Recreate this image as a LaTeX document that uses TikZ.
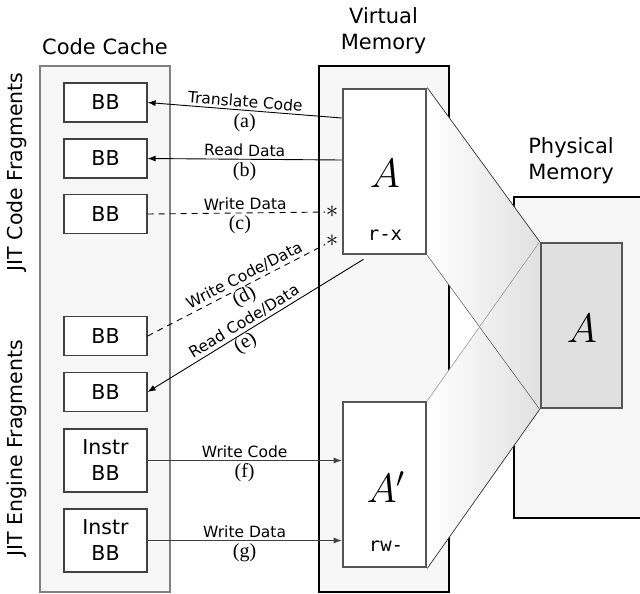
\documentclass[tikz,border=0pt]{standalone}
\usepackage{fontspec}
\newfontfamily\sansfam{DejaVu Sans}
\newfontfamily\monofam{DejaVu Sans Mono}
\newfontfamily\serifam{Liberation Serif}
\usetikzlibrary{arrows.meta,calc,backgrounds}
\definecolor{panel}{HTML}{F7F7F7}
\definecolor{cacheedge}{HTML}{808080}
\definecolor{boxedge}{HTML}{555555}
\definecolor{physfill}{HTML}{E0E0E0}
\newcommand{\pagename}[1]{\scalebox{1.98}{$#1$}}
\begin{document}
\begin{tikzpicture}[x=1pt,y=1pt,
  panelbox/.style={draw, fill=panel, line width=2.3pt, inner sep=0pt},
  bbbox/.style={draw=black!75, line width=1.2pt, fill=white, minimum width=83pt,
    minimum height=39pt, inner sep=0pt, align=center,
    font=\sansfam\fontsize{20.5}{26}\selectfont},
  membox/.style={draw=boxedge, line width=2.6pt, fill=white, minimum width=83pt,
    minimum height=165pt, inner sep=0pt},
  title/.style={font=\sansfam\fontsize{21}{26}\selectfont, inner sep=0pt, align=center},
  side/.style={font=\sansfam\fontsize{20.5}{24}\selectfont, inner sep=0pt, rotate=90},
  lbl/.style={font=\sansfam\fontsize{15.5}{18}\selectfont, inner sep=2.5pt},
  tag/.style={font=\serifam\fontsize{20}{22}\selectfont, inner sep=0.5pt},
  bigA/.style={font=\fontsize{20.74}{25}\selectfont, inner sep=0pt, anchor=base},
  perm/.style={font=\monofam\fontsize{19}{22}\selectfont, inner sep=0pt, anchor=base},
  faultmark/.style={font=\fontsize{24.88}{25}\selectfont, inner sep=0.5pt},
  arr/.style={line width=0.9pt, {Latex[length=8pt,width=6pt]}-},
  arrw/.style={line width=0.9pt, draw=black!75, -{Latex[length=8pt,width=6pt]}},
  dsh/.style={line width=0.9pt, dash pattern=on 6pt off 5pt},
]
\useasboundingbox (0,0) rectangle (640,-594);

% three memory regions
\begin{scope}[on background layer]
  \node[panelbox, draw=cacheedge, minimum width=130pt, minimum height=526pt] (cache) at (105,-329) {};
  \node[panelbox, draw=black, line width=2.5pt, minimum width=130pt, minimum height=526pt] (vmem) at (384,-329) {};
  \node[panelbox, draw=black, line width=2.5pt, minimum width=166pt, minimum height=321pt] (pmem) at (597,-357.5) {};
\end{scope}

% headings
\node[title] (cachelbl) at (105,-47) {Code Cache};
\node[title, anchor=north] (vmemlbl) at (383.5,-7) {Virtual\\Memory};
\node[title, anchor=north] (pmemlbl) at (571,-137) {Physical\\Memory};
\node[side] (jitcode) at (17,-172) {JIT Code Fragments};
\node[side] (jiteng) at (17,-448) {JIT Engine Fragments};

% code cache fragments
\node[bbbox] (bb1) at (105.5,-102.5) {BB};
\node[bbbox] (bb2) at (105.5,-158.5) {BB};
\node[bbbox] (bb3) at (105.5,-214) {BB};
\node[bbbox] (bb4) at (105.5,-336) {BB};
\node[bbbox] (bb5) at (105.5,-392) {BB};
\node[bbbox, minimum height=63pt] (ibb1) at (105.5,-460.5) {Instr\\BB};
\node[bbbox, minimum height=63pt] (ibb2) at (105.5,-540.5) {Instr\\BB};

% virtual and physical pages
\node[membox] (ra) at (384.5,-171.5) {};
\node[membox] (wa) at (384.5,-484.5) {};
\node[membox, fill=physfill, minimum width=81pt] (pa) at (581.5,-325.5) {};
\node[bigA] (raname) at (385,-187) {\pagename{A}};
\node[perm] (raperm) at (385,-240) {r-x};
\node[bigA] (waname) at (386,-502) {\pagename{A'}};
\node[perm] (waperm) at (386,-551) {rw-};
\node[bigA] (paname) at (582,-342) {\pagename{A}};

% mappings from the two views onto the same physical page
\begin{scope}[on background layer]
  \shade[left color=white, right color=black!12]
    (ra.north east) -- (pa.north west) -- (pa.south west) -- (ra.south east) -- cycle;
  \shade[left color=white, right color=black!12]
    (wa.north east) -- (pa.north west) -- (pa.south west) -- (wa.south east) -- cycle;
  \draw[black!80, line width=0.7pt] (ra.north east) -- (pa.north west);
  \draw[black!60, line width=0.6pt] (ra.south east) -- (pa.south west);
  \draw[black!40, line width=0.6pt] (wa.north east) -- (pa.north west);
  \draw[black!80, line width=0.7pt] (wa.south east) -- (pa.south west);
\end{scope}

% faulting accesses
\node[faultmark] (s1) at (332,-212) {$\ast$};
\node[faultmark] (s2) at (332,-241) {$\ast$};
\coordinate (estart) at ($(ra.south)+(-21,-4)$);

% accesses
\draw[arr] (bb1.east) -- node[lbl, sloped, above] {Translate Code}
  node[tag, below=2pt] {(a)} ([yshift=53.5pt]ra.west);
\draw[arr] (bb2.east) -- node[lbl, sloped, above] {Read Data}
  node[tag, below=2pt] {(b)} ([yshift=11.5pt]ra.west);
\draw[dsh] (bb3.east) -- node[lbl, sloped, above, pos=0.55] {Write Data}
  node[tag, below=2pt, pos=0.52] {(c)} (s1);
\draw[dsh] (bb4.east) -- node[lbl, sloped, above, pos=0.57] {Write Code/Data}
  node[tag, sloped, below, pos=0.52] {(d)} (s2);
\draw[arr] (bb5.east) -- node[lbl, sloped, above, pos=0.47] {Read Code/Data}
  node[tag, sloped, below, pos=0.43] {(e)} (estart);
\draw[arrw] (ibb1.east) -- node[lbl, above] {Write Code}
  node[tag, below=2pt] {(f)} (wa.west |- ibb1.east);
\draw[arrw] (ibb2.east) -- node[lbl, above] {Write Data}
  node[tag, below=2pt] {(g)} (wa.west |- ibb2.east);
\end{tikzpicture}
\end{document}
